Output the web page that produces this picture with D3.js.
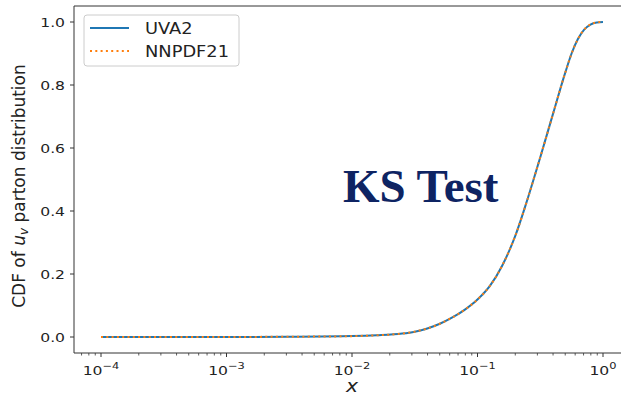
<!DOCTYPE html>
<html>
<head>
<meta charset="utf-8">
<script src="https://cdn.jsdelivr.net/npm/d3@7"></script>
<style>
  html, body { margin: 0; padding: 0; background: #fff; }
  svg { display: block; }
  text { font-family: "DejaVu Sans", sans-serif; }
</style>
</head>
<body>
<svg id="chart" width="621" height="399"></svg>
<script>
// Momentum fraction x (log grid) and cumulative distribution of u_v
const xValues    = [0.0001, 0.001, 0.00316, 0.01, 0.0158, 0.0251, 0.0316, 0.0398, 0.0501, 0.0631, 0.0794, 0.1, 0.126, 0.158, 0.2, 0.251, 0.316, 0.398, 0.501, 0.562, 0.631, 0.708, 0.794, 0.891, 1.0];
const cdfUVA2    = [0.0, 0.0002, 0.0008, 0.0028, 0.0055, 0.011, 0.017, 0.027, 0.042, 0.062, 0.087, 0.119, 0.163, 0.228, 0.321, 0.439, 0.570, 0.706, 0.840, 0.900, 0.946, 0.976, 0.992, 0.9985, 1.0];
const cdfNNPDF21 = [0.0, 0.0002, 0.0008, 0.0028, 0.0055, 0.011, 0.017, 0.027, 0.042, 0.062, 0.087, 0.119, 0.163, 0.228, 0.321, 0.439, 0.570, 0.706, 0.840, 0.900, 0.946, 0.976, 0.992, 0.9985, 1.0];
const seriesNames = ["UVA2", "NNPDF21"];
const yTicks = [0.0, 0.2, 0.4, 0.6, 0.8, 1.0];
const xTickExponents = [-4, -3, -2, -1, 0];

const svg = d3.select("#chart");
const sx = 1.2; // horizontal stretch applied to axis text

const x = d3.scaleLog().domain([1e-4, 1]).range([101, 603]);
const y = d3.scaleLinear().domain([0, 1]).range([337, 22]);
const frame = { left: 74, bottom: 353, top: 6, right: 640 };

const axisColor = "#333";

// frame: left, bottom and top spines
svg.append("line").attr("x1", frame.left).attr("x2", frame.left).attr("y1", frame.top).attr("y2", frame.bottom)
  .attr("stroke", axisColor).attr("stroke-width", 1);
svg.append("line").attr("x1", frame.left).attr("x2", frame.right).attr("y1", frame.bottom).attr("y2", frame.bottom)
  .attr("stroke", axisColor).attr("stroke-width", 1);
svg.append("line").attr("x1", frame.left).attr("x2", frame.right).attr("y1", frame.top).attr("y2", frame.top)
  .attr("stroke", axisColor).attr("stroke-width", 1);

// y axis ticks and labels
const yAxis = svg.append("g");
yTicks.forEach(v => {
  yAxis.append("line").attr("x1", frame.left - 4).attr("x2", frame.left).attr("y1", y(v)).attr("y2", y(v))
    .attr("stroke", axisColor).attr("stroke-width", 1);
  yAxis.append("text")
    .attr("transform", `translate(${frame.left - 9},${y(v) + 5}) scale(${sx},1)`)
    .attr("text-anchor", "end").attr("font-size", 13).attr("fill", "#222")
    .text(v.toFixed(1));
});

// x axis: major decades and minor ticks
const xAxis = svg.append("g");
const minor = [];
for (let e = -5; e <= 0; e++) for (let m = 2; m <= 9; m++) minor.push(m * Math.pow(10, e));
minor.filter(v => x(v) > frame.left && x(v) < 621).forEach(v => {
  xAxis.append("line").attr("x1", x(v)).attr("x2", x(v)).attr("y1", frame.bottom).attr("y2", frame.bottom + 2.5)
    .attr("stroke", axisColor).attr("stroke-width", 0.8);
});
xTickExponents.forEach(e => {
  const v = Math.pow(10, e);
  xAxis.append("line").attr("x1", x(v)).attr("x2", x(v)).attr("y1", frame.bottom).attr("y2", frame.bottom + 4)
    .attr("stroke", axisColor).attr("stroke-width", 1);
  const t = xAxis.append("text")
    .attr("transform", `translate(${x(v)},${frame.bottom + 22}) scale(${sx},1)`)
    .attr("text-anchor", "middle").attr("font-size", 13).attr("fill", "#222");
  t.append("tspan").text("10");
  t.append("tspan").attr("dy", -6).attr("font-size", 9.5).text(e === 0 ? "0" : "\u2212" + Math.abs(e));
});

// axis titles
svg.append("text")
  .attr("transform", `translate(352,392) scale(${sx},1)`)
  .attr("text-anchor", "middle").attr("font-size", 17).attr("font-style", "italic").attr("fill", "#222")
  .text("x");

const yl = svg.append("text")
  .attr("transform", `translate(25,186) rotate(-90)`)
  .attr("text-anchor", "middle").attr("font-size", 17).attr("fill", "#222");
yl.append("tspan").text("CDF of ");
yl.append("tspan").attr("font-style", "italic").text("u");
yl.append("tspan").attr("font-style", "italic").attr("font-size", 12).attr("dy", 3).text("v");
yl.append("tspan").attr("dy", -3).text(" parton distribution");

// curves
const line = d3.line().x(d => x(d[0])).y(d => y(d[1])).curve(d3.curveMonotoneX);
svg.append("path").datum(xValues.map((v, i) => [v, cdfUVA2[i]]))
  .attr("d", line).attr("fill", "none").attr("stroke", "#1f77b4").attr("stroke-width", 2);
svg.append("path").datum(xValues.map((v, i) => [v, cdfNNPDF21[i]]))
  .attr("d", line).attr("fill", "none").attr("stroke", "#ff7f0e").attr("stroke-width", 2)
  .attr("stroke-dasharray", "2,3.3");

// legend
const lg = svg.append("g");
lg.append("rect").attr("x", 84).attr("y", 15).attr("width", 155).attr("height", 51).attr("rx", 3)
  .attr("fill", "#fff").attr("fill-opacity", 0.8).attr("stroke", "#ccc").attr("stroke-width", 1);
const legendStyles = [
  { color: "#1f77b4", dash: null },
  { color: "#ff7f0e", dash: "2,3.3" }
];
seriesNames.forEach((name, i) => {
  const yy = 28 + i * 23;
  lg.append("line").attr("x1", 90).attr("x2", 129).attr("y1", yy).attr("y2", yy)
    .attr("stroke", legendStyles[i].color).attr("stroke-width", 2)
    .attr("stroke-dasharray", legendStyles[i].dash);
  lg.append("text").attr("transform", `translate(145,${yy + 6}) scale(1.15,1)`)
    .attr("font-size", 15.5).attr("fill", "#222").text(name);
});

// annotation
svg.append("text").attr("x", 343).attr("y", 202)
  .style("font-family", "'Liberation Serif', 'Times New Roman', serif")
  .attr("font-weight", "bold").attr("font-size", 47).attr("fill", "#0e2463")
  .text("KS Test");
</script>
</body>
</html>
